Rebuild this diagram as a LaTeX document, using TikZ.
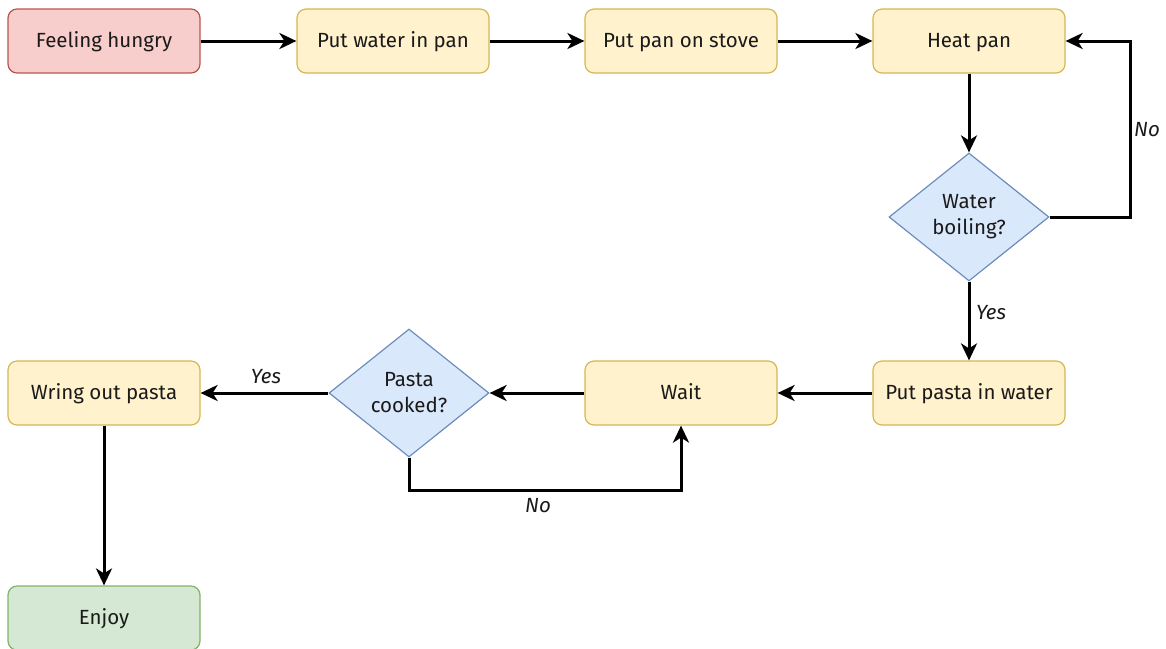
\documentclass[tikz,border=0pt]{standalone}
\usepackage{fontspec}
\setmainfont{Fira Sans}
\usetikzlibrary{shapes.geometric,arrows.meta,positioning}
\definecolor{redfill}{HTML}{F8CECC}
\definecolor{redline}{HTML}{B85450}
\definecolor{yelfill}{HTML}{FFF2CC}
\definecolor{yelline}{HTML}{D6B656}
\definecolor{blufill}{HTML}{DAE8FC}
\definecolor{bluline}{HTML}{6C8EBF}
\definecolor{grnfill}{HTML}{D5E8D4}
\definecolor{grnline}{HTML}{82B366}
\definecolor{txt}{HTML}{1A1A1A}
\tikzset{
  box/.style={rectangle, rounded corners=9pt, minimum width=192pt, minimum height=64pt, line width=1.2pt, font=\fontsize{20.5}{24}\selectfont, text=txt, inner sep=0pt, text height=15pt, text depth=2pt},
  startbox/.style={box, fill=redfill, draw=redline},
  stepbox/.style={box, fill=yelfill, draw=yelline},
  endbox/.style={box, fill=grnfill, draw=grnline},
  decision/.style={diamond, minimum width=160pt, minimum height=128pt, inner sep=0pt, fill=blufill, draw=bluline, line width=1.2pt, font=\fontsize{20.5}{26}\selectfont, text=txt, align=center},
  conn/.style={line width=3pt, draw=black, -{Stealth[length=17pt, width=16pt, inset=5pt]}},
  lab/.style={font=\fontsize{20.5}{24}\selectfont\itshape, text=txt}
}
\begin{document}
\begin{tikzpicture}[x=1pt, y=-1pt]
\useasboundingbox (0,0) rectangle (1166,648);
\node[startbox] (hungry) at (104,41) {Feeling hungry};
\node[stepbox] (water) at (393,41) {Put water in pan};
\node[stepbox] (stove) at (681,41) {Put pan on stove};
\node[stepbox] (heat) at (969,41) {Heat pan};
\node[decision] (boil) at (969,217) {Water\\boiling?};
\node[stepbox] (pasta) at (969,393) {Put pasta in water};
\node[stepbox] (wait) at (681,393) {Wait};
\node[decision] (cooked) at (409,393) {Pasta\\cooked?};
\node[stepbox] (wring) at (104,393) {Wring out pasta};
\node[endbox] (enjoy) at (104,618) {Enjoy};
\coordinate (boilR) at (1130,217);
\coordinate (heatR) at (1130,41);
\coordinate (cookB) at (409,490);
\coordinate (waitB) at (681,490);
\draw[conn] (hungry) -- (water);
\draw[conn] (water) -- (stove);
\draw[conn] (stove) -- (heat);
\draw[conn] (heat) -- (boil);
\draw[conn] (boil.east) -- (boilR) -- (heatR) -- (heat.east);
\draw[conn] (boil) -- (pasta);
\draw[conn] (pasta) -- (wait);
\draw[conn] (wait) -- (cooked);
\draw[conn] (cooked) -- (wring);
\draw[conn] (cooked.south) -- (cookB) -- (waitB) -- (wait.south);
\draw[conn] (wring) -- (enjoy);
\node[lab] (lno1) at (1147,130) {No};
\node[lab] (lyes1) at (991,313) {Yes};
\node[lab] (lyes2) at (266,377) {Yes};
\node[lab] (lno2) at (538,506) {No};
\end{tikzpicture}
\end{document}
